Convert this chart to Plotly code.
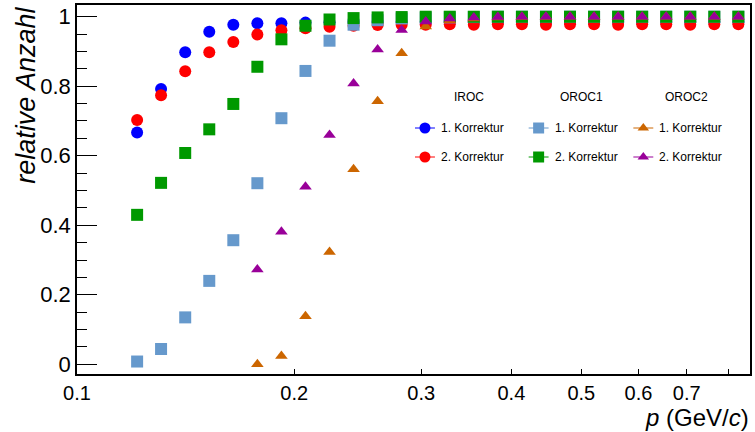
import plotly.graph_objects as go

# momentum bin centres (30 log bins per decade)
p_gev = [0.12115, 0.13077, 0.14125, 0.15252, 0.16469, 0.17783, 0.19201,
         0.20734, 0.22387, 0.24173, 0.26102, 0.28184, 0.30432, 0.32860,
         0.35481, 0.38312, 0.41369, 0.44668, 0.48232, 0.52080, 0.56234,
         0.60720, 0.65566, 0.70795, 0.76442, 0.82541]

iroc_k1 = [0.667, 0.792, 0.898, 0.957, 0.977, 0.981, 0.981, 0.983, 0.984,
           0.985, 0.985, 0.985, 0.985, 0.985, 0.985, 0.985, 0.985, 0.985,
           0.985, 0.985, 0.985, 0.985, 0.985, 0.985, 0.985, 0.985]
iroc_k2 = [0.703, 0.774, 0.843, 0.898, 0.927, 0.949, 0.961, 0.967, 0.971,
           0.974, 0.976, 0.977, 0.977, 0.978, 0.977, 0.978, 0.978, 0.977,
           0.978, 0.978, 0.977, 0.978, 0.978, 0.977, 0.978, 0.978]
oroc1_k1 = [0.008, 0.044, 0.135, 0.240, 0.357, 0.521, 0.708, 0.844, 0.931,
            0.977, 0.990, 0.995, 0.997, 0.998, 0.999, 1.0, 1.0, 1.0, 1.0,
            1.0, 1.0, 1.0, 1.0, 1.0, 1.0, 1.0]
oroc1_k2 = [0.430, 0.522, 0.608, 0.676, 0.749, 0.856, 0.935, 0.974, 0.992,
            0.996, 0.998, 0.999, 1.0, 1.0, 1.0, 1.0, 1.0, 1.0, 1.0, 1.0,
            1.0, 1.0, 1.0, 1.0, 1.0, 1.0]
oroc2_k1 = [None, None, None, None, None, 0.0, 0.024, 0.138, 0.323, 0.561,
            0.757, 0.895, 0.972, 0.990, 0.995, 0.998, 0.999, 0.999, 1.0,
            1.0, 1.0, 1.0, 1.0, 1.0, 1.0, 1.0]
oroc2_k2 = [None, None, None, None, None, 0.273, 0.381, 0.511, 0.660, 0.808,
            0.906, 0.962, 0.986, 0.995, 0.998, 0.999, 1.0, 1.0, 1.0, 1.0,
            1.0, 1.0, 1.0, 1.0, 1.0, 1.0]

x_ticks = [0.1, 0.2, 0.3, 0.4, 0.5, 0.6, 0.7, 0.8]
x_tick_text = ["0.1", "0.2", "0.3", "0.4", "0.5", "0.6", "0.7", ""]
y_ticks = [0, 0.2, 0.4, 0.6, 0.8, 1.0]
y_tick_text = ["0", "0.2", "0.4", "0.6", "0.8", "1"]

chambers = ["IROC", "OROC1", "OROC2"]
corrections = ["1. Korrektur", "2. Korrektur"]

# (chamber, correction, values, colour, symbol, size) in drawing order
series = [
    ("IROC", 0, iroc_k1, "#0000ff", "circle", 12),
    ("IROC", 1, iroc_k2, "#ff0000", "circle", 12),
    ("OROC1", 0, oroc1_k1, "#6699cc", "square", 12),
    ("OROC1", 1, oroc1_k2, "#009900", "square", 12),
    ("OROC2", 0, oroc2_k1, "#cc6600", "triangle-up", 11),
    ("OROC2", 1, oroc2_k2, "#990099", "triangle-up", 11),
]

FONT = "Liberation Sans, Arial, sans-serif"
W, H = 755, 432
ML, MR, MT, MB = 77, 3, 5, 58

fig = go.Figure()

for chamber, corr, vals, color, symbol, size in series:
    fig.add_trace(go.Scatter(
        x=p_gev, y=vals, mode="markers", showlegend=False,
        name=f"{chamber} {corrections[corr]}",
        marker=dict(color=color, symbol=symbol, size=size, line=dict(width=0)),
        cliponaxis=False,
    ))

# legend block drawn on a pixel-scaled overlay axis pair
col_x = {"IROC": 416, "OROC1": 530, "OROC2": 635}
head_x = {"IROC": 470, "OROC1": 583, "OROC2": 688}
head_y = 97
row_y = [128, 157]
key_len = 20

annotations = []
for chamber in chambers:
    annotations.append(dict(
        x=head_x[chamber], y=head_y, xref="x2", yref="y2", text=chamber,
        showarrow=False, xanchor="center", yanchor="middle",
        font=dict(family=FONT, size=12, color="black")))

for chamber, corr, vals, color, symbol, size in series:
    x0 = col_x[chamber]
    y0 = row_y[corr]
    fig.add_trace(go.Scatter(
        x=[x0, x0 + key_len], y=[y0, y0], xaxis="x2", yaxis="y2",
        mode="lines", line=dict(color=color, width=1),
        showlegend=False, hoverinfo="skip", cliponaxis=False))
    fig.add_trace(go.Scatter(
        x=[x0 + key_len / 2], y=[y0], xaxis="x2", yaxis="y2",
        mode="markers", marker=dict(color=color, symbol=symbol, size=size - 1),
        showlegend=False, hoverinfo="skip", cliponaxis=False))
    annotations.append(dict(
        x=x0 + key_len + 4, y=y0, xref="x2", yref="y2",
        text=corrections[corr], showarrow=False,
        xanchor="left", yanchor="middle",
        font=dict(family=FONT, size=12, color="black")))

plot_w = W - ML - MR
plot_h = H - MT - MB

# axis titles
annotations.append(dict(
    x=(25 - ML) / plot_w, y=1.0, xref="paper", yref="paper",
    text="<i>relative Anzahl</i>", textangle=-90, showarrow=False,
    xanchor="center", yanchor="top",
    font=dict(family=FONT, size=27, color="black")))
annotations.append(dict(
    x=1.0, y=-(H - (H - MB)) / plot_h, xref="paper", yref="paper",
    text="<i>p</i> (GeV/<i>c</i>)", showarrow=False,
    xanchor="right", yanchor="bottom", borderpad=0,
    font=dict(family=FONT, size=24, color="black")))

fig.update_layout(
    width=W, height=H,
    margin=dict(l=ML, r=MR, t=MT, b=MB),
    paper_bgcolor="white", plot_bgcolor="white",
    font=dict(family=FONT, color="black"),
    showlegend=False,
    annotations=annotations,
    xaxis=dict(
        type="log", range=[-1, -0.0672],
        tickvals=x_ticks, ticktext=x_tick_text,
        ticks="inside", ticklen=5, tickwidth=1, tickcolor="black",
        showline=True, linecolor="black", linewidth=1.5, mirror=True,
        showgrid=False, zeroline=False,
        tickfont=dict(family=FONT, size=20, color="black"),
    ),
    yaxis=dict(
        range=[-0.0279, 1.0337],
        tickvals=y_ticks, ticktext=y_tick_text,
        ticks="inside", ticklen=20, tickwidth=1, tickcolor="black",
        showline=True, linecolor="black", linewidth=1.5, mirror=True,
        showgrid=False, zeroline=False,
        tickfont=dict(family=FONT, size=22, color="black"),
        minor=dict(dtick=0.05, tick0=0, ticks="inside", ticklen=10,
                   tickwidth=1, tickcolor="black", showgrid=False),
    ),
    xaxis2=dict(overlaying="x", anchor="y2", range=[ML, W - MR],
                visible=False, fixedrange=True),
    yaxis2=dict(overlaying="y", anchor="x2", range=[H - MB, MT],
                visible=False, fixedrange=True),
)

fig.write_html("out.html")
